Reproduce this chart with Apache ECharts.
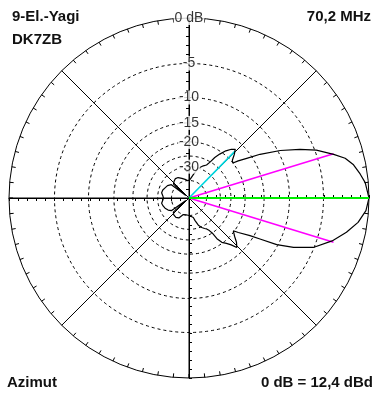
<!DOCTYPE html>
<html><head><meta charset="utf-8">
<script src="https://cdn.jsdelivr.net/npm/echarts@6/dist/echarts.min.js"></script>
<style>html,body{margin:0;padding:0;background:#fff}#c{width:384px;height:398px}</style>
</head><body><div id="c"></div>
<script>
// ---- data (azimuth in degrees, counter-clockwise from forward direction; level in dB) ----
const patternAngles = [0,5,8,11.4,14.3,16.8,20.6,23.7,27.5,31.6,34.5,37,38.5,41,44,46.5,49,52,55,57.5,59.5,62,66,69,72.6,76,79.5,84,88,95,102,110,118,125,132,138,140.5,143,150,157,163,169,175,180,185,191,197,203,210,216,219.5,222,228,236,243,251,260,270,277,282.5,285,289,293.4,297,299.7,302,303.5,304.5,306.5,309.5,312,314,317,320,323.5,325,328.3,330,332,334.7,338.3,343.3,347.7,351.8,355.9,360];
const patternDb = [0,-0.3,-0.7,-1.2,-1.9,-3.0,-4.8,-6.8,-9.6,-13.2,-16.2,-18.4,-20.0,-19.6,-18.0,-16.9,-17.6,-18.9,-20.8,-22.7,-25.0,-27.0,-28.0,-27.9,-30.1,-32.5,-34.8,-37.5,-39.5,-40.0,-38.5,-37.0,-35.2,-34.8,-35.8,-37.0,-65,-36.0,-34.0,-33.2,-32.3,-32.0,-33.0,-33.5,-33.0,-32.0,-32.5,-33.2,-34.5,-36.5,-65,-36.8,-35.5,-35.0,-35.8,-40.0,-40.5,-40.0,-39.0,-37.8,-35.0,-31.5,-29.6,-28.5,-27.8,-26.5,-25.0,-22.2,-20.3,-19.2,-18.0,-16.5,-17.5,-19.0,-20.3,-18.8,-15.8,-13.5,-10.2,-7.6,-5.1,-3.2,-1.9,-0.9,-0.25,0];
const beamwidthAngles = [17, 343];
const beamwidthDb = [-3.0, -3.0];
const sidelobeAngle = 45.5;
const sidelobeDb = -17.3;
const mainAngle = 0;
const mainDb = 0;
const ringDb = [-5, -10, -15, -20, -25, -30, -40];
const tickDb = [0, -5, -10, -15, -20, -30];
const tickLabels = ['0 dB', '-5', '-10', '-15', '-20', '-30'];
const titleLeft = ['9-El.-Yagi', 'DK7ZB'];
const titleRight = '70,2 MHz';
const footLeft = 'Azimut';
const footRight = '0 dB = 12,4 dBd';

// ---- ARRL log scale ----
function arrl(db) { return Math.pow(0.89, -db / 2); }

const CX = 189, CY = 198, R = 180;
const FONT = "'Liberation Sans', Arial, sans-serif";

const polar = [], angleAxis = [], radiusAxis = [];
const axisStarts = [0, 90, 180, 270];
axisStarts.forEach((s, i) => {
  polar.push({ center: [CX, CY], radius: R });
  if (i === 0) {
    angleAxis.push({
      polarIndex: 0, type: 'value', min: 0, max: 360, interval: 45,
      startAngle: 0, clockwise: false,
      axisLine: { show: true, lineStyle: { color: '#000', width: 1 } },
      axisTick: { show: true, inside: true, length: 4, lineStyle: { color: '#000', width: 1 } },
      minorTick: { show: true, splitNumber: 9, length: 4, lineStyle: { color: '#000', width: 1 } },
      axisLabel: { show: false },
      splitLine: { show: true, lineStyle: { color: '#000', width: 1 } }
    });
  } else {
    angleAxis.push({ polarIndex: i, type: 'value', min: 0, max: 360, startAngle: s, clockwise: false, show: false });
  }
  radiusAxis.push({
    polarIndex: i, type: 'value', min: 0, max: 1, interval: 0.05,
    axisLine: { show: true, lineStyle: { color: '#000', width: 1 } },
    axisTick: { show: true, length: 3, lineStyle: { color: '#000', width: 1 } },
    axisLabel: { show: false },
    splitLine: { show: false }
  });
});
ringDb.forEach((d) => {
  const idx = polar.length;
  polar.push({ center: [CX, CY], radius: R * arrl(d) });
  angleAxis.push({
    polarIndex: idx, type: 'value', min: 0, max: 360, startAngle: 0, clockwise: false,
    axisLine: { show: true, lineStyle: { color: '#000', width: 1, type: [3, 3] } },
    axisTick: { show: false }, axisLabel: { show: false }, splitLine: { show: false }
  });
  radiusAxis.push({ polarIndex: idx, type: 'value', min: 0, max: 1, show: false, splitLine: { show: false } });
});

const series = [
  {
    type: 'line', coordinateSystem: 'polar', polarIndex: 0, symbol: 'none', z: 5,
    lineStyle: { color: '#000', width: 1.2 },
    data: patternAngles.map((a, i) => [arrl(patternDb[i]), a])
  },
  ...beamwidthAngles.map((a, i) => ({
    type: 'line', coordinateSystem: 'polar', polarIndex: 0, symbol: 'none', z: 4,
    lineStyle: { color: '#ff00ff', width: 1.6 },
    data: [[0, a], [arrl(beamwidthDb[i]), a]]
  })),
  {
    type: 'line', coordinateSystem: 'polar', polarIndex: 0, symbol: 'none', z: 4,
    lineStyle: { color: '#00d8e0', width: 1.6 },
    data: [[0, sidelobeAngle], [arrl(sidelobeDb), sidelobeAngle]]
  },
  {
    type: 'line', coordinateSystem: 'polar', polarIndex: 0, z: 6,
    lineStyle: { color: '#00ee00', width: 2 },
    symbol: 'circle', symbolSize: [0, 8], showSymbol: true,
    itemStyle: { color: 'rgba(0,0,0,0)', borderColor: '#00dd00', borderWidth: 2 },
    data: [[0, mainAngle], [arrl(mainDb), mainAngle]]
  },
  {
    type: 'scatter', coordinateSystem: 'polar', polarIndex: 0, z: 10,
    symbol: 'circle', symbolSize: 1, itemStyle: { color: 'rgba(0,0,0,0)' },
    label: {
      show: true, position: 'inside', color: '#000', fontSize: 14, fontFamily: FONT,
      backgroundColor: '#fff', padding: [0, 1, 0, 1],
      formatter: (p) => tickLabels[p.dataIndex]
    },
    data: tickDb.map((d) => [arrl(d), 90])
  }
];

function txt(text, x, y, align) {
  return {
    type: 'text', x: x, y: y, z: 100,
    style: {
      text: text, fill: '#111', fontSize: 15, fontWeight: 'bold', fontFamily: FONT,
      align: align, textAlign: align, verticalAlign: 'middle', textVerticalAlign: 'middle'
    }
  };
}

const chart = echarts.init(document.getElementById('c'), null, { renderer: 'canvas' });
chart.setOption({
  animation: false,
  backgroundColor: '#fff',
  polar: polar, angleAxis: angleAxis, radiusAxis: radiusAxis,
  series: series,
  graphic: [
    txt(titleLeft[0], 12, 17, 'left'),
    txt(titleLeft[1], 12, 40, 'left'),
    txt(titleRight, 371, 17, 'right'),
    txt(footLeft, 7, 383, 'left'),
    txt(footRight, 373, 383, 'right')
  ]
});
</script></body></html>
